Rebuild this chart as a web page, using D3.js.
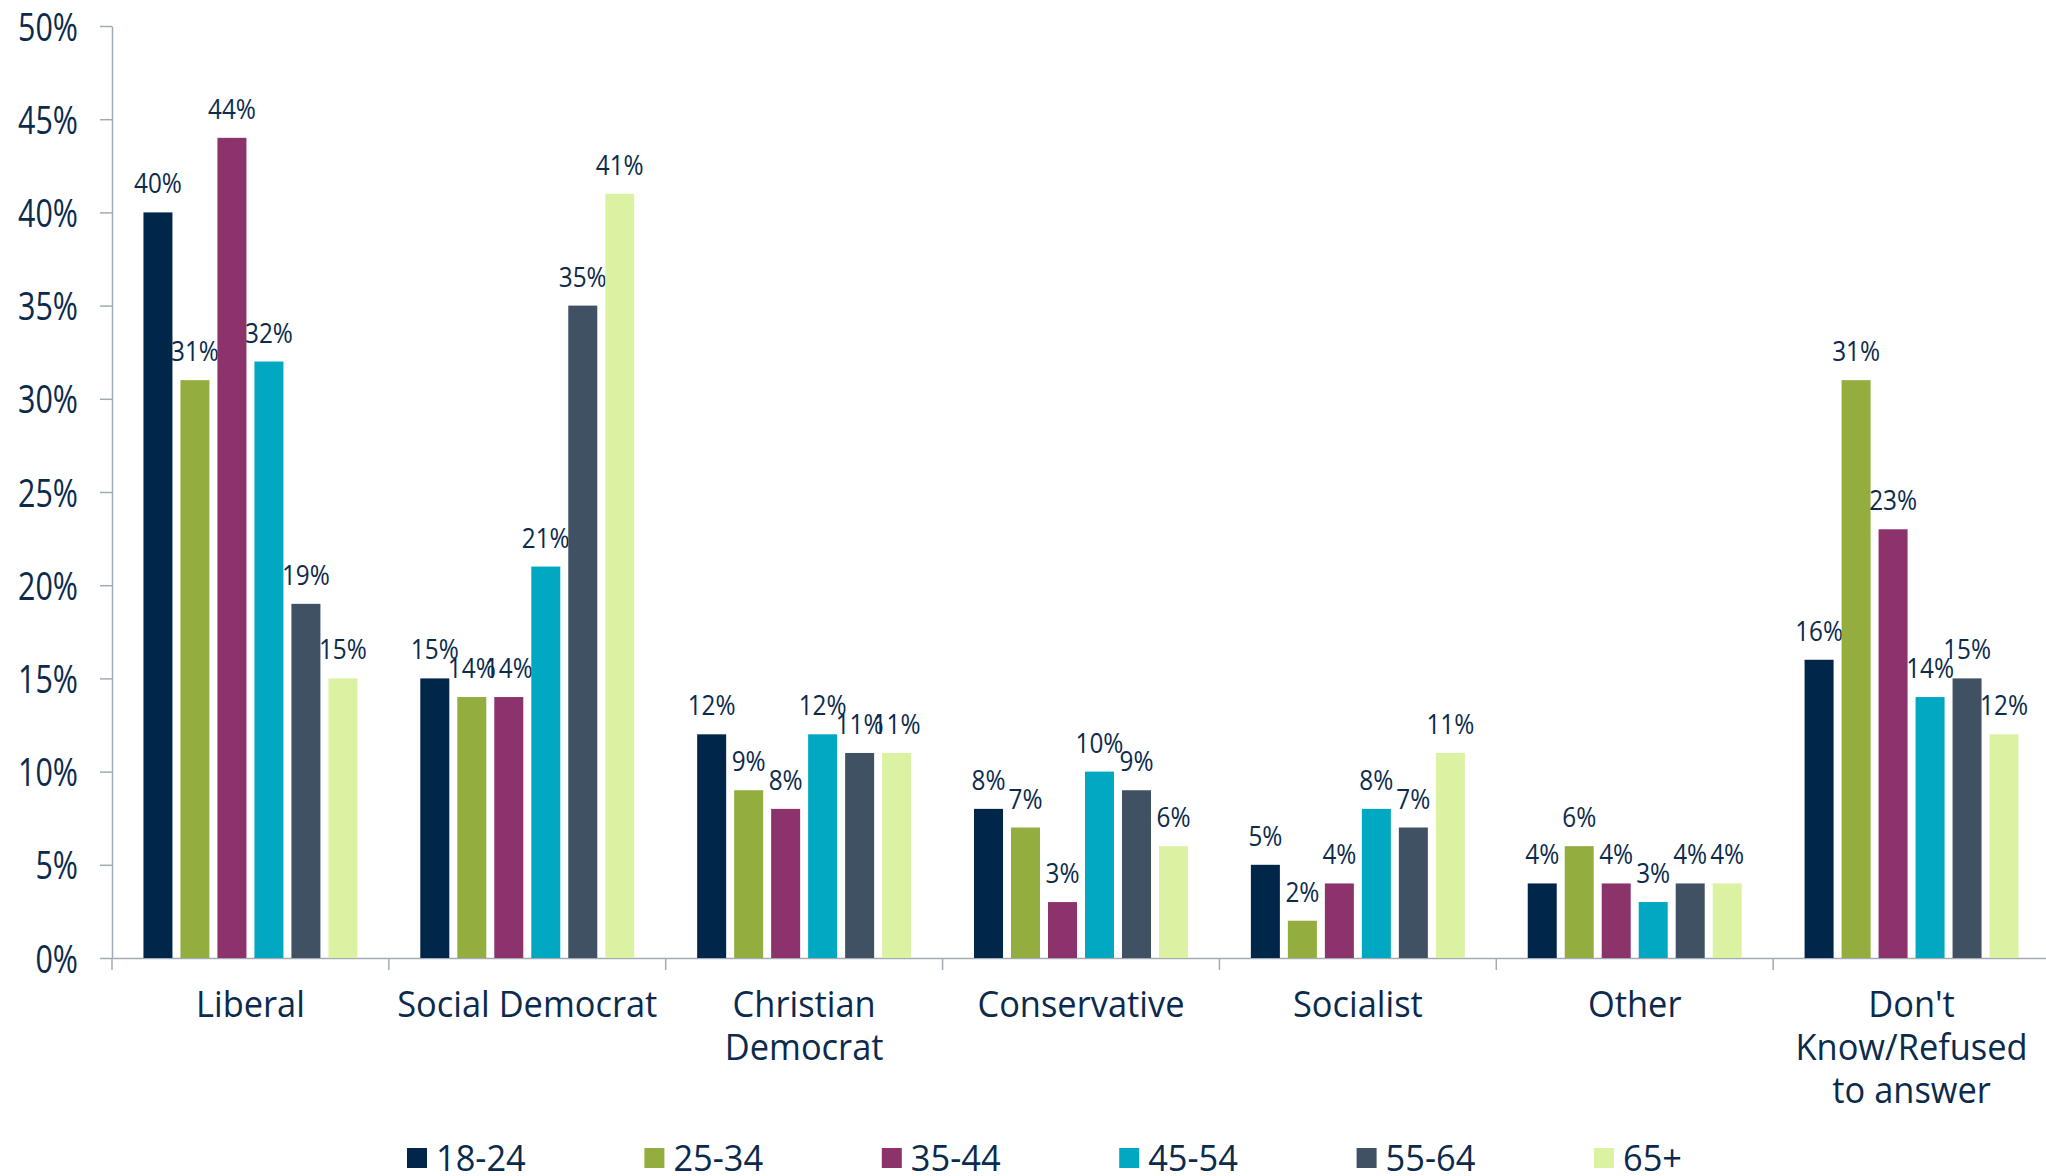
<!DOCTYPE html>
<html><head><meta charset="utf-8">
<script src="https://cdn.jsdelivr.net/npm/d3@7"></script>
<style>html,body{margin:0;padding:0;background:#fff;}svg{display:block;}text{font-family:"Open Sans","Noto Sans",sans-serif;fill:#0b2a4c;}</style>
</head><body>
<svg id="chart" width="2046" height="1176"></svg>
<script>
const categories = ["Liberal", "Social Democrat", "Christian\nDemocrat", "Conservative", "Socialist", "Other", "Don't\nKnow/Refused\nto answer"];
const seriesNames = ["18-24", "25-34", "35-44", "45-54", "55-64", "65+"];
const v18_24 = [40, 15, 12, 8, 5, 4, 16];
const v25_34 = [31, 14, 9, 7, 2, 6, 31];
const v35_44 = [44, 14, 8, 3, 4, 4, 23];
const v45_54 = [32, 21, 12, 10, 8, 3, 14];
const v55_64 = [19, 35, 11, 9, 7, 4, 15];
const v65p   = [15, 41, 11, 6, 11, 4, 12];
const yTicks = [0, 5, 10, 15, 20, 25, 30, 35, 40, 45, 50];
const colors = ["#00264a", "#93ad3f", "#8c336b", "#00a8c2", "#3f5162", "#dcf2a3"];

(function () {
const seriesValues = [v18_24, v25_34, v35_44, v45_54, v55_64, v65p];
const svg = d3.select("#chart");
const pLeft = 112, pRight = 2050, pTop = 26, pBottom = 958;
const axisColor = "#a2aab5";

const y = d3.scaleLinear().domain([0, 50]).range([pBottom, pTop]);
const x = d3.scaleBand().domain(categories).range([pLeft, pRight]).padding(0);
const xs = d3.scaleBand().domain(seriesNames).range([0, x.bandwidth()]).paddingInner(0.216).paddingOuter(0.85);

// Y axis
const yAxis = svg.append("g").attr("transform", `translate(${pLeft},0)`)
  .call(d3.axisLeft(y).tickValues(yTicks).tickFormat(d => d + "%").tickSize(12).tickSizeOuter(0));
yAxis.select(".domain").attr("stroke", axisColor).attr("stroke-width", 1.5);
yAxis.selectAll(".tick line").attr("stroke", axisColor).attr("stroke-width", 1.5);
const sxTick = 0.78;
yAxis.selectAll(".tick text")
  .attr("x", -34 / sxTick).attr("dy", "0.36em")
  .attr("transform", `scale(${sxTick},1)`)
  .style("font-size", "39px").style("font-family", "'Open Sans','Noto Sans',sans-serif").attr("fill", "#0b2a4c");

// X axis
const xAxis = svg.append("g").attr("transform", `translate(0,${pBottom})`)
  .call(d3.axisBottom(x).tickSize(0).tickFormat(""));
xAxis.select(".domain").attr("stroke", axisColor).attr("stroke-width", 1.5);
const boundaries = categories.map(c => x(c)).concat([x(categories[categories.length - 1]) + x.bandwidth()]);
svg.append("g").selectAll("line").data(boundaries).join("line")
  .attr("x1", d => d).attr("x2", d => d).attr("y1", pBottom).attr("y2", pBottom + 12)
  .attr("stroke", axisColor).attr("stroke-width", 1.5);

// Category labels
const sxCat = 0.93;
categories.forEach(c => {
  const cx = x(c) + x.bandwidth() / 2;
  const lines = c.split("\n");
  const g = svg.append("g").attr("transform", `translate(${cx},1017) scale(${sxCat},1)`);
  lines.forEach((ln, i) => {
    g.append("text").attr("x", 0).attr("y", i * 43).attr("text-anchor", "middle")
      .style("font-size", "37px").text(ln);
  });
});

// Bars
const sxLab = 0.9;
seriesNames.forEach((s, si) => {
  const g = svg.append("g");
  const data = categories.map((c, ci) => ({ c, v: seriesValues[si][ci] }));
  g.selectAll("rect").data(data).join("rect")
    .attr("x", d => x(d.c) + xs(s))
    .attr("y", d => y(d.v))
    .attr("width", xs.bandwidth())
    .attr("height", d => y(0) - y(d.v))
    .attr("fill", colors[si]);
  g.selectAll("g.lab").data(data).join("g").attr("class", "lab")
    .attr("transform", d => `translate(${x(d.c) + xs(s) + xs.bandwidth() / 2},${y(d.v) - 19}) scale(${sxLab},1)`)
    .append("text").attr("text-anchor", "middle").style("font-size", "27px")
    .text(d => d.v + "%");
});

// Legend
const legendX0 = 407, legendStep = 237.4, legendY = 1148;
const sxLeg = 0.93;
seriesNames.forEach((s, i) => {
  const lx = legendX0 + i * legendStep;
  svg.append("rect").attr("x", lx).attr("y", legendY).attr("width", 20).attr("height", 20).attr("fill", colors[i]);
  svg.append("g").attr("transform", `translate(${lx + 29},${legendY + 23}) scale(${sxLeg},1)`)
    .append("text").style("font-size", "37px").text(s);
});
})();
</script>
</body></html>
